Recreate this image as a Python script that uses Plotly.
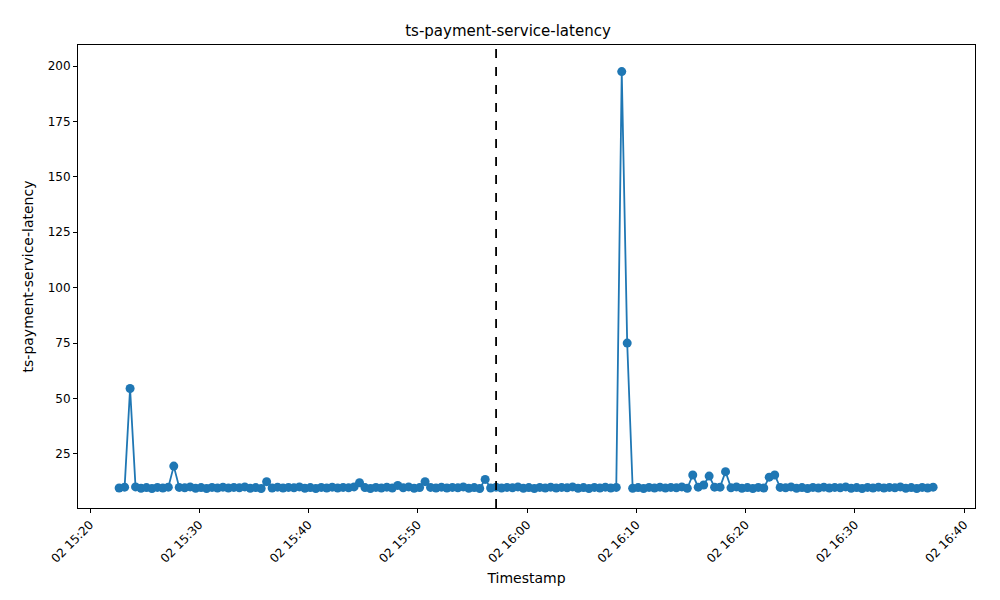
import plotly.graph_objects as go
import pandas as pd

start = "2024-01-02 15:22:40"
n_points = 150
timestamps = pd.date_range(start, periods=n_points, freq="30s")
base = [9.6, 9.9, 9.7, 10.1, 9.5, 9.8, 9.4, 9.9, 9.6, 10.0]
values = [base[i % 10] for i in range(n_points)]
spikes = {1: 10.0, 2: 54.5, 10: 19.5, 27: 12.5, 44: 12.0, 51: 10.8, 56: 12.5, 67: 13.5,
          92: 197.5, 93: 75.0, 105: 15.5, 106: 10.0, 107: 11.0, 108: 15.0, 109: 10.0,
          110: 10.0, 111: 17.0, 119: 14.5, 120: 15.5}
for k, v in spikes.items():
    values[k] = v
event_time = "2024-01-02 15:57:10"
title = "ts-payment-service-latency"

fig = go.Figure()
fig.add_trace(go.Scatter(x=timestamps, y=values, mode="lines+markers",
                         line=dict(color="#1f77b4", width=1.8),
                         marker=dict(color="#1f77b4", size=9)))
fig.add_shape(type="line", x0=event_time, x1=event_time, y0=0, y1=1, yref="paper",
              line=dict(color="black", width=1.8, dash="dash"))
axis = dict(showgrid=False, zeroline=False, showline=True, mirror=True, linecolor="black",
            ticks="outside", ticklen=4, tickcolor="black", automargin=False)
fig.update_layout(
    width=1000, height=600, plot_bgcolor="white", paper_bgcolor="white",
    margin=dict(l=70, r=33, t=37, b=100), showlegend=False,
    font=dict(family="DejaVu Sans", size=12, color="black"),
    title=dict(text=title, x=0.5, xanchor="center", y=0.962, yanchor="middle",
               font=dict(size=15), automargin=False),
    xaxis=dict(**axis, title=dict(text="Timestamp", standoff=8), tickformat="%d %H:%M",
               tickangle=-45, dtick=600000, tick0="2024-01-02 15:20:00",
               range=["2024-01-02 15:18:54", "2024-01-02 16:41:00"]),
    yaxis=dict(**axis, title=dict(text=title, standoff=10), range=[0.6, 209.5],
               tickvals=[25, 50, 75, 100, 125, 150, 175, 200]),
)
fig.write_html("out.html")
